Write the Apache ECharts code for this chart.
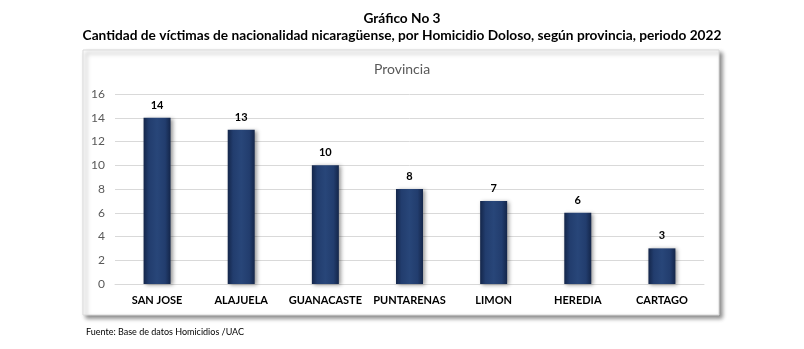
<!DOCTYPE html>
<html><head><meta charset="utf-8">
<script src="https://cdn.jsdelivr.net/npm/echarts@6/dist/echarts.min.js"></script>
<style>html,body{margin:0;padding:0;background:#fff}#c{width:804px;height:349px}</style>
</head><body><div id="c"></div>
<script>
const categories = ['SAN JOSE','ALAJUELA','GUANACASTE','PUNTARENAS','LIMON','HEREDIA','CARTAGO'];
const values = [14,13,10,8,7,6,3];
const yTicks = [0,2,4,6,8,10,12,14,16];
const mainTitle = 'Gráfico No 3';
const subTitle = 'Cantidad de víctimas de nacionalidad nicaragüense, por Homicidio Doloso, según provincia, periodo 2022';
const innerTitle = 'Provincia';
const source = 'Fuente: Base de datos Homicidios /UAC';

const F = 'Lato, "Open Sans", sans-serif';
const chart = echarts.init(document.getElementById('c'), null, {renderer:'canvas'});
chart.setOption({
  animation:false,
  backgroundColor:'#fff',
  graphic:[
    {type:'rect', z:-10, shape:{x:83,y:50,width:636,height:265},
     style:{fill:'#fff', stroke:'#d9d9d9', lineWidth:1, shadowBlur:4, shadowOffsetX:3, shadowOffsetY:3, shadowColor:'rgba(0,0,0,0.45)'}},
    {type:'text', left:'center', top:12, style:{text:mainTitle, font:'bold 13.7px '+F, fill:'#000'}},
    {type:'text', left:'center', top:29, style:{text:subTitle, font:'bold 13.7px '+F, fill:'#000'}},
    {type:'text', left:'center', top:62, style:{text:innerTitle, font:'14px '+F, fill:'#595959'}},
    {type:'text', left:86, top:328, style:{text:source, font:'9px '+F, fill:'#000'}}
  ],
  grid:{left:115, right:100, top:94, bottom:65},
  xAxis:{type:'category', data:categories,
    axisLine:{lineStyle:{color:'#d9d9d9'}}, axisTick:{show:false},
    axisLabel:{interval:0, color:'#000', fontWeight:'bold', fontSize:11, fontFamily:F, margin:11}},
  yAxis:{type:'value', min:yTicks[0], max:yTicks[yTicks.length-1], interval:2,
    axisLine:{show:false}, axisTick:{show:false},
    splitLine:{lineStyle:{color:'#d9d9d9'}},
    axisLabel:{color:'#595959', fontSize:12, fontFamily:F, margin:10}},
  series:[{type:'bar', data:values, barWidth:27,
    itemStyle:{
      color:new echarts.graphic.LinearGradient(0,0,1,0,[
        {offset:0,color:'#14264a'},{offset:0.2,color:'#223d6e'},{offset:0.5,color:'#284679'},{offset:0.8,color:'#223d6e'},{offset:1,color:'#14264a'}]),
      shadowBlur:4, shadowOffsetX:2, shadowOffsetY:1, shadowColor:'rgba(0,0,0,0.4)'},
    label:{show:true, position:'top', distance:7, color:'#000', fontWeight:'bold', fontSize:11, fontFamily:F}
  }]
});
</script></body></html>
